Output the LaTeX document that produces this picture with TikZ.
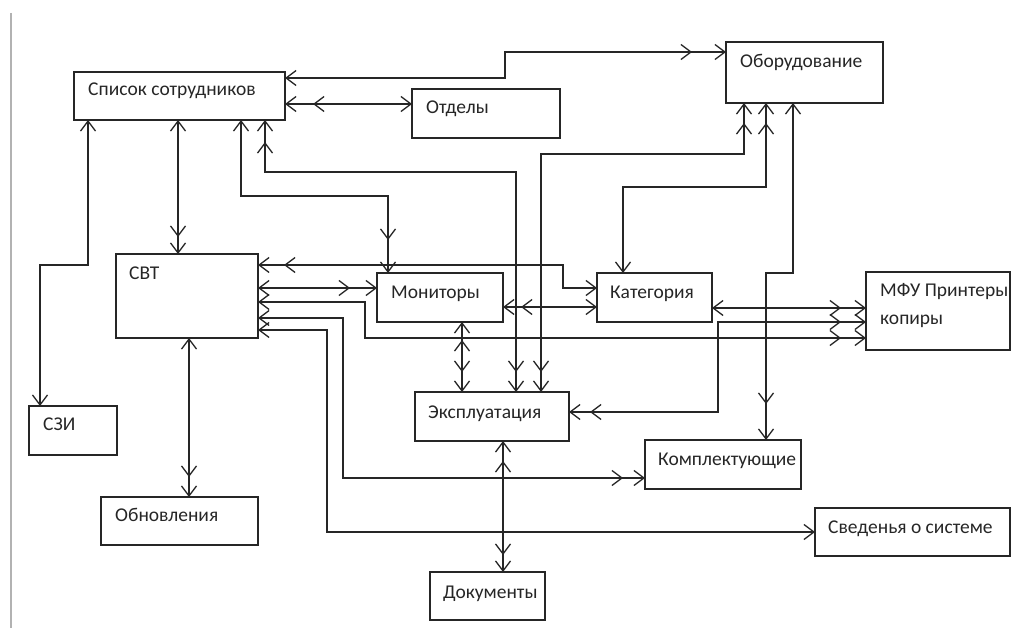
\documentclass[tikz,border=0pt]{standalone}
\usepackage{fontspec}
\setmainfont{Carlito}
\usetikzlibrary{arrows.meta,decorations.markings}
\begin{document}
\begin{tikzpicture}[x=1pt,y=-1pt,
  >={Straight Barb[length=10pt,width=15pt]},
  bx/.style={draw=black!85,line width=1.3pt,rectangle,inner sep=0pt,outer sep=0pt,anchor=north west},
  tx/.style={anchor=base west,inner sep=0pt,text=black!85,font=\fontsize{19.5}{23}\selectfont},
  cn/.style={draw=black!85,line width=1.3pt,<->},
  eb/.style={postaction={decorate,decoration={markings,mark=at position -#1 with {\arrow{>}}}}},
  sb/.style={postaction={decorate,decoration={markings,mark=at position #1 with {\arrowreversed{>}}}}}]
\useasboundingbox (0,0) rectangle (1016,628);
\fill[white] (0,0) rectangle (1016,628);
\draw[black!30,line width=2pt] (11,13) -- (11,628);
% boxes
\node[bx,minimum width=211pt,minimum height=48pt] (spis) at (74,72) {};
\node[bx,minimum width=148pt,minimum height=49pt] (otd) at (412,89) {};
\node[bx,minimum width=157pt,minimum height=61pt] (obor) at (726,42) {};
\node[bx,minimum width=142pt,minimum height=84pt] (svt) at (116,254) {};
\node[bx,minimum width=126pt,minimum height=49pt] (mon) at (377,273) {};
\node[bx,minimum width=115pt,minimum height=49pt] (kat) at (597,273) {};
\node[bx,minimum width=144pt,minimum height=78pt] (mfu) at (866,272) {};
\node[bx,minimum width=154pt,minimum height=49pt] (ekspl) at (415,392) {};
\node[bx,minimum width=156pt,minimum height=49pt] (kompl) at (645,440) {};
\node[bx,minimum width=88pt,minimum height=49pt] (szi) at (29,406) {};
\node[bx,minimum width=157pt,minimum height=48pt] (obn) at (101,497) {};
\node[bx,minimum width=195pt,minimum height=48pt] (sved) at (815,508) {};
\node[bx,minimum width=115pt,minimum height=48pt] (dok) at (430,572) {};
% texts
\node[tx] (spist) at (88,96) {Список сотрудников};
\node[tx] (otdt) at (426,114) {Отделы};
\node[tx] (obort) at (740,68) {Оборудование};
\node[tx] (svtt) at (129,279) {СВТ};
\node[tx] (mont) at (391,298) {Мониторы};
\node[tx] (katt) at (610,298) {Категория};
\node[tx] (mfut) at (880,296) {МФУ Принтеры};
\node[tx] (mfut2) at (880,324) {копиры};
\node[tx] (ekslt) at (428,418) {Эксплуатация};
\node[tx] (komplt) at (658,465) {Комплектующие};
\node[tx] (szit) at (43,430) {СЗИ};
\node[tx] (obnt) at (115,521) {Обновления};
\node[tx] (svedt) at (828,533) {Сведенья о системе};
\node[tx] (dokt) at (443,598) {Документы};
% connectors
\draw[cn,eb=34pt] ([yshift=-6pt]spis.north east) -- (505,78) -- (505,52) -- ([yshift=-10pt]obor.north west);
\draw[cn,sb=28pt] ([yshift=-32pt]spis.north east) -- ([yshift=-15pt]otd.north west);
\draw[cn,eb=17pt] ([xshift=104pt]spis.south west) -- ([xshift=62pt]svt.north west);
\draw[cn] ([xshift=14pt]spis.south west) -- (88,265) -- (40,265) -- ([xshift=11pt]szi.north west);
\draw[cn,eb=33pt] ([xshift=167pt]spis.south west) -- (241,196) -- (388,196) -- ([xshift=11pt]mon.north west);
\draw[cn,sb=22pt,eb=20pt] ([xshift=191pt]spis.south west) -- (265,172) -- (516,172) -- ([xshift=101pt]ekspl.north west);
\draw[cn,sb=20pt,eb=20pt] ([xshift=18pt]obor.south west) -- (744,154) -- (541,154) -- ([xshift=126pt]ekspl.north west);
\draw[cn,sb=20pt] ([xshift=40pt]obor.south west) -- (766,187) -- (623,187) -- ([xshift=26pt]kat.north west);
\draw[cn,eb=36pt] ([xshift=67pt]obor.south west) -- (793,273) -- (766,273) -- ([xshift=121pt]kompl.north west);
\draw[cn,sb=26pt] ([yshift=-11pt]svt.north east) -- (563,265) -- (563,288) -- ([yshift=-15pt]kat.north west);
\draw[cn,eb=27pt] ([yshift=-34pt]svt.north east) -- ([yshift=-15pt]mon.north west);
\draw[cn,sb=18pt] ([yshift=-34pt]mon.north east) -- ([yshift=-34pt]kat.north west);
\draw[cn,eb=25pt] ([yshift=-48pt]svt.north east) -- (365,302) -- (365,338) -- ([yshift=-66pt]mfu.north west);
\draw[cn,eb=25pt] ([yshift=-35pt]kat.north east) -- ([yshift=-36pt]mfu.north west);
\draw[cn,sb=25pt,eb=21pt] ([yshift=-50pt]mfu.north west) -- (718,322) -- (718,412) -- ([yshift=-20pt]ekspl.north east);
\draw[cn,eb=22pt] ([yshift=-64pt]svt.north east) -- (343,318) -- (343,478) -- ([yshift=-38pt]kompl.north west);
\draw[cn] ([yshift=-76pt]svt.north east) -- (327,330) -- (327,532) -- ([yshift=-24pt]sved.north west);
\draw[cn,sb=18pt,eb=20pt] ([xshift=85pt]mon.south west) -- ([xshift=47pt]ekspl.north west);
\draw[cn,sb=20pt,eb=17pt] ([xshift=88pt]ekspl.south west) -- ([xshift=73pt]dok.north west);
\draw[cn,eb=20pt] ([xshift=73pt]svt.south west) -- ([xshift=88pt]obn.north west);
\end{tikzpicture}
\end{document}
